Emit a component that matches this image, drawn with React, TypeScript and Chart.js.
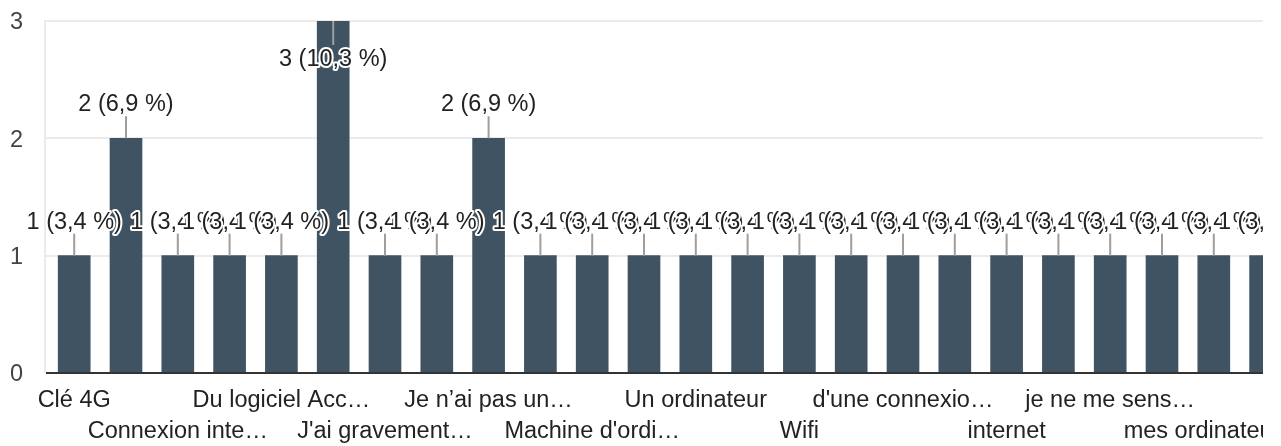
import { useEffect, useRef } from 'react';
import { Chart, registerables } from 'chart.js';

Chart.register(...registerables);

const TOTAL_RESPONSES = 29;

const categories = [
  'Clé 4G', '', 'Connexion inte…', '', 'Du logiciel Acc…', '',
  "J'ai gravement…", '', 'Je n’ai pas un…', '', "Machine d'ordi…", '',
  'Un ordinateur', '', 'Wifi', '', "d'une connexio…", '',
  'internet', '', 'je ne me sens…', '', 'mes ordinateur…', '',
];

const counts = [1, 2, 1, 1, 1, 3, 1, 1, 2, 1, 1, 1, 1, 1, 1, 1, 1, 1, 1, 1, 1, 1, 1, 1];

const yTicks = [0, 1, 2, 3];

const FONT = '"Liberation Sans", Arial, Helvetica, sans-serif';
const FONT_SIZE = 23.5;
const BAR_COLOR = '#3f5362';

const decorPlugin = {
  id: 'decor',
  beforeDatasetsDraw(chart: any) {
    const { ctx, chartArea, scales } = chart;
    const y = scales.y;
    ctx.save();
    ctx.strokeStyle = '#ebebeb';
    ctx.lineWidth = 2;
    for (const t of yTicks) {
      if (t === 0) continue;
      const py = Math.round(y.getPixelForValue(t));
      ctx.beginPath();
      ctx.moveTo(37, py);
      ctx.lineTo(chart.width, py);
      ctx.stroke();
    }
    ctx.beginPath();
    ctx.moveTo(37, chartArea.top - 1);
    ctx.lineTo(37, chartArea.bottom);
    ctx.stroke();
    ctx.restore();
  },
  afterDatasetsDraw(chart: any) {
    const { ctx, chartArea, scales } = chart;
    const y = scales.y;
    ctx.save();
    // baseline
    const by0 = y.getPixelForValue(0);
    ctx.strokeStyle = '#333333';
    ctx.lineWidth = 2;
    ctx.beginPath();
    ctx.moveTo(38, by0);
    ctx.lineTo(chart.width, by0);
    ctx.stroke();

    // annotations
    const meta = chart.getDatasetMeta(0);
    ctx.font = `${FONT_SIZE}px ${FONT}`;
    ctx.textAlign = 'center';
    ctx.textBaseline = 'alphabetic';
    ctx.lineJoin = 'round';
    meta.data.forEach((bar: any, i: number) => {
      const v = counts[i];
      const pct = ((v / TOTAL_RESPONSES) * 100).toFixed(1).replace('.', ',');
      const text = `${v} (${pct} %)`;
      const x = bar.x;
      const top = bar.y;
      const inside = top - 48 < chartArea.top;
      let l1: number, l2: number, base: number;
      if (!inside) {
        l1 = top - 22;
        l2 = top;
        base = top - 27;
      } else {
        l1 = top;
        l2 = top + 24;
        base = top + 45;
      }
      ctx.strokeStyle = '#9e9e9e';
      ctx.lineWidth = 2;
      ctx.beginPath();
      ctx.moveTo(x, l1);
      ctx.lineTo(x, l2);
      ctx.stroke();
      ctx.strokeStyle = '#ffffff';
      ctx.lineWidth = 4;
      ctx.strokeText(text, x, base);
      ctx.fillStyle = '#222222';
      ctx.fillText(text, x, base);
    });
    ctx.restore();
  },
};

export default function App() {
  const ref = useRef<HTMLCanvasElement | null>(null);

  useEffect(() => {
    if (!ref.current) return;
    const chart = new Chart(ref.current, {
      type: 'bar',
      data: {
        labels: categories,
        datasets: [
          {
            data: counts,
            backgroundColor: BAR_COLOR,
            borderWidth: 0,
            barThickness: 32,
          },
        ],
      },
      options: {
        responsive: false,
        animation: false,
        devicePixelRatio: 1,
        layout: { padding: { top: 13, right: 6.5, bottom: 0, left: 0 } },
        plugins: {
          legend: { display: false },
          tooltip: { enabled: false },
        },
        scales: {
          x: {
            grid: { display: false, drawTicks: false },
            border: { display: false },
            ticks: {
              autoSkip: false,
              maxRotation: 0,
              minRotation: 0,
              padding: 12,
              color: '#222222',
              font: { family: FONT, size: FONT_SIZE, lineHeight: 31 / FONT_SIZE },
              callback: (_v: any, index: number) => {
                const lab = categories[index];
                if (!lab) return '';
                return index % 4 === 0 ? [lab] : ['', lab];
              },
            },
            afterFit: (s: any) => {
              s.height = 73;
              s.paddingLeft = 0;
              s.paddingRight = 0;
            },
          },
          y: {
            min: 0,
            max: 3,
            grid: { display: false, drawTicks: false },
            border: { display: false },
            ticks: {
              padding: 25.3,
              labelOffset: 2,
              color: '#444444',
              font: { family: FONT, size: FONT_SIZE },
            },
            afterBuildTicks: (s: any) => {
              s.ticks = yTicks.map((v) => ({ value: v }));
            },
            afterFit: (s: any) => {
              s.width = 40.3;
              s.paddingTop = 0;
              s.paddingBottom = 0;
            },
          },
        },
      },
      plugins: [decorPlugin],
    });
    return () => chart.destroy();
  }, []);

  return (
    <div style={{ width: 1255, height: 438, overflow: 'hidden' }}>
      <canvas ref={ref} width={1290} height={438} style={{ display: 'block' }} />
    </div>
  );
}
